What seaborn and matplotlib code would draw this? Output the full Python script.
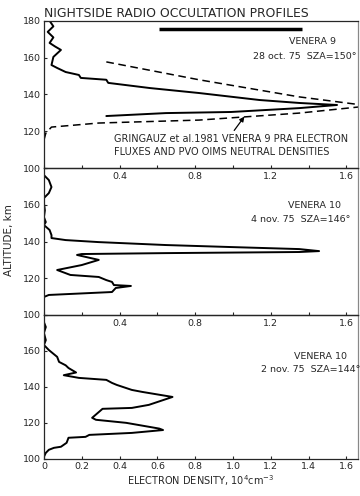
import matplotlib
matplotlib.use("Agg")
import matplotlib.pyplot as plt
import seaborn as sns
import numpy as np

# Venera 9, 28 oct 75 (electron density 1e4 cm^-3, altitude km)
v9_density = [0.03, 0.05, 0.02, 0.05, 0.03, 0.06, 0.09, 0.05, 0.04, 0.07, 0.115, 0.185,
              0.195, 0.33, 0.34, 0.56, 0.82, 1.14, 1.35, 1.55, 1.35, 0.99, 0.645, 0.33]
v9_alt = [180, 177, 174, 171, 168, 166, 164.2, 160.4, 156, 154.4, 152.2, 150.6,
          149, 148, 146.3, 143.5, 140.8, 137, 135.4, 134.3, 132.6, 130.5, 129.9, 128.3]

# Gringauz et al. 1981 model (dashed)
model_density = [0.33, 0.82, 1.35, 1.72, 1.35, 0.82, 0.29, 0.04, 0.01, 0.0]
model_alt = [157.7, 148.0, 138.7, 133.8, 129.9, 126.1, 124.5, 122.3, 119.0, 115.2]

# Venera 10, 4 nov 75
v10a_density = [0.0, 0.026, 0.04, 0.026, 0.0, 0.0, 0.005, 0.0, 0.01, 0.0, 0.03, 0.04, 0.04,
                0.115, 0.29, 0.645, 0.99, 1.35, 1.455, 1.35, 0.645, 0.2, 0.175, 0.29, 0.2,
                0.07, 0.14, 0.29, 0.33, 0.36, 0.37, 0.46, 0.38, 0.36, 0.026, 0.0, 0.0]
v10a_alt = [176.2, 173.5, 169.7, 166.4, 163.7, 161, 157, 153.3, 150.6, 149, 146.3, 143.5, 141.9,
            140.8, 139.7, 138.1, 137, 135.9, 134.8, 134.3, 133.7, 133.2, 132.7, 130, 127.2,
            124.5, 121.8, 120.7, 119, 118, 116.3, 115.8, 114.7, 112.5, 110.9, 109.8, 108.2]

# Venera 10, 2 nov 75
v10b_density = [0.0, 0.01, 0.0, 0.01, 0.0, 0.026, 0.07, 0.08, 0.115, 0.13, 0.17, 0.105, 0.185,
                0.33, 0.36, 0.385, 0.465, 0.52, 0.68, 0.555, 0.465, 0.31, 0.255, 0.275, 0.435,
                0.61, 0.63, 0.465, 0.24, 0.22, 0.13, 0.12, 0.09, 0.053, 0.026, 0.01, 0.0]
v10b_alt = [176, 173.3, 170, 166, 163.3, 160.5, 156.7, 153.9, 152, 150.5, 148, 146.5, 145,
            143.9, 142.2, 141.1, 138.3, 137.2, 134.4, 130, 128.3, 127.8, 122.8, 121.7, 120,
            116.8, 116, 114.4, 113.3, 112.2, 111.7, 108.9, 106.7, 106.1, 105, 103.3, 101.1]

x_ticks = [0, 0.2, 0.4, 0.6, 0.8, 1.0, 1.2, 1.4, 1.6]
y_ticks = [100, 120, 140, 160, 180]

sns.set_style("ticks")
plt.rcParams['font.family'] = ['DejaVu Sans']

fig = plt.figure(figsize=(3.6, 4.96), dpi=100)
left, width = 0.122, 0.872
bounds = [(0.661, 0.297), (0.365, 0.296), (0.075, 0.29)]
axes = [fig.add_axes([left, b, width, h]) for b, h in bounds]

fs = 6.8
for i, ax in enumerate(axes):
    ax.set_zorder(3 - i)
    ax.patch.set_alpha(0)
    ax.set_xlim(0, 1.66)
    ax.set_ylim(100, 180)
    ax.set_xticks(x_ticks)
    ax.set_yticks(y_ticks)
    ax.tick_params(direction="in", length=2.5, width=0.8, labelsize=fs, pad=2)
    for s in ax.spines.values():
        s.set_linewidth(0.9)
    ax.spines["right"].set_color("#888888")
    ax.set_xlabel("")
    ax.set_ylabel("")
    if i < 2:
        ax.set_xticklabels(["", "", "0.4", "", "0.8", "", "1.2", "", "1.6"])
        ax.tick_params(axis="x", pad=3)
    else:
        ax.set_xticklabels(["0", "0.2", "0.4", "0.6", "0.8", "1.0", "1.2", "1.4", "1.6"])
    if i > 0:
        ax.set_yticklabels(["100", "120", "140", "160", ""])

ax1, ax2, ax3 = axes

sns.lineplot(x=v9_density, y=v9_alt, sort=False, estimator=None, color="black", lw=1.4, ax=ax1)
sns.lineplot(x=model_density, y=model_alt, sort=False, estimator=None, color="black", lw=1.1, ax=ax1)
ax1.lines[-1].set_linestyle((0, (5, 3)))
ax1.plot([0.61, 1.365], [175.6, 175.6], color="black", lw=2.5, solid_capstyle="butt")
ax1.text(1.42, 167.5, "VENERA 9", fontsize=fs, ha="center")
ax1.text(1.38, 159.5, "28 oct. 75  SZA=150°", fontsize=fs, ha="center")
ax1.annotate("GRINGAUZ et al.1981 VENERA 9 PRA ELECTRON\nFLUXES AND PVO OIMS NEUTRAL DENSITIES",
             xy=(1.06, 128.0), xytext=(0.37, 112.5), fontsize=7.0, ha="left", va="center",
             linespacing=1.35,
             arrowprops=dict(arrowstyle="-|>", color="black", lw=0.9,
                             shrinkA=0, shrinkB=0, relpos=(0.5, 0.95)))

sns.lineplot(x=v10a_density, y=v10a_alt, sort=False, estimator=None, color="black", lw=1.4, ax=ax2)
ax2.text(1.43, 158.5, "VENERA 10", fontsize=fs, ha="center")
ax2.text(1.36, 150.5, "4 nov. 75  SZA=146°", fontsize=fs, ha="center")

sns.lineplot(x=v10b_density, y=v10b_alt, sort=False, estimator=None, color="black", lw=1.4, ax=ax3)
ax3.text(1.46, 155.5, "VENERA 10", fontsize=fs, ha="center")
ax3.text(1.41, 148.0, "2 nov. 75  SZA=144°", fontsize=fs, ha="center")

ax1.set_title("NIGHTSIDE RADIO OCCULTATION PROFILES", fontsize=8.9, loc="left", pad=3)
ax3.set_xlabel("ELECTRON DENSITY, 10$^4$cm$^{-3}$", fontsize=7, labelpad=2)
fig.text(0.025, 0.515, "ALTITUDE, km", rotation=90, fontsize=7.5, ha="center", va="center")

fig.savefig("out.png", dpi=100)
